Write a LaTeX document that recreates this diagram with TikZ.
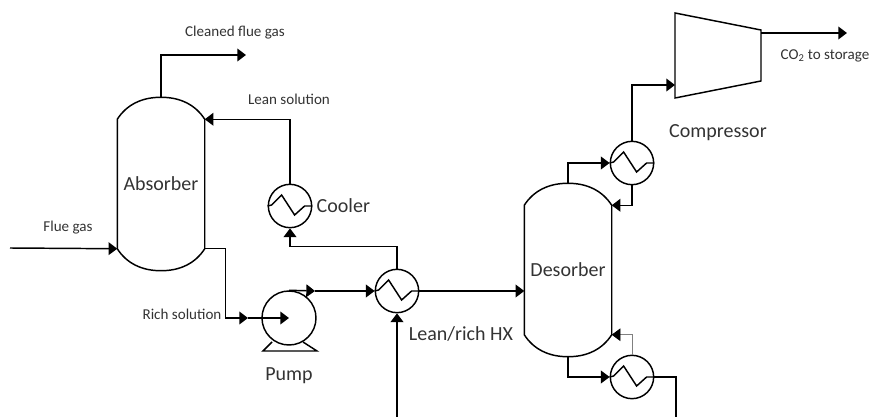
\documentclass[tikz,border=0pt]{standalone}
\usepackage{fontspec}
\setmainfont{Carlito}
\usetikzlibrary{positioning,arrows.meta}

\tikzset{
  vessel/.style={minimum width=64.5pt, minimum height=96pt, inner sep=0pt, font=\fontsize{15}{18}\selectfont, text=black!80},
  exchanger/.style={draw, circle, minimum size=32.5pt, inner sep=0pt},
  pumpbody/.style={draw, circle, minimum size=40.5pt, inner sep=0pt},
  biglabel/.style={font=\fontsize{15}{18}\selectfont, text=black!80, inner sep=0pt},
  smalllabel/.style={font=\fontsize{11.3}{13}\selectfont, text=black!80, inner sep=0pt},
  flow/.style={-{Triangle[length=6.5pt,width=9.5pt,black]}}
}

\begin{document}
\begin{tikzpicture}[x=0.75pt, y=-0.75pt, line width=1.1pt]
\useasboundingbox (0,0) rectangle (869,417);
% vessels
\node[vessel] (absorber) at (161,184) {Absorber};
\node[vessel] (desorber) at (568,270) {Desorber};
\foreach \n in {absorber,desorber} {
  \draw (\n.north west) .. controls ++(9,-14) and ++(-20,0) .. ([yshift=16.5pt]\n.north)
        .. controls ++(20,0) and ++(-9,-14) .. (\n.north east)
        -- (\n.south east) .. controls ++(-9,14) and ++(20,0) .. ([yshift=-16.5pt]\n.south)
        .. controls ++(-20,0) and ++(9,14) .. (\n.south west) -- cycle;
}
% heat exchangers
\node[exchanger] (cooler) at (290,206) {};
\node[exchanger] (hx) at (397,291) {};
\node[exchanger] (condenser) at (632,163) {};
\node[exchanger] (reboiler) at (632,377) {};
\foreach \n in {cooler,hx,condenser,reboiler} {
  \draw (\n.west) -- ++(4,-1) -- ++(10,-10) -- ++(13,20) -- ++(10,-9) -- (\n.east);
}
% pump
\node[pumpbody] (pump) at (289,318) {};
\draw (272,342) -- (263,351) -- (317,351) -- (303,342);
% compressor
\coordinate (compin) at (675,85);
\coordinate (compout) at (761,33);
\draw (675,13) -- (761,30) -- (761,81) -- (675,98) -- cycle;
% free ends
\coordinate (fluein) at (10,248);
\coordinate (cleanedout) at (246,55);
\coordinate (co2out) at (847,33);
\coordinate (hxfeed) at (397,417);
\coordinate (reboilerout) at (676,417);
\coordinate (pumpmid) at (248,318);
\coordinate (pumpexit) at (315,291);
% connectors
\draw[flow] (fluein) -- (absorber.south west);
\draw[flow] (absorber.north) ++(0,-22) |- (cleanedout);
\draw[flow] (cooler.north) |- (absorber.north east);
\draw[flow] (absorber.south east) -- ++(21,0) |- (pumpmid);
\draw[flow] (pumpmid) -- (pump.center);
\draw[flow] (pump.north) -- (pumpexit);
\draw[flow] (pumpexit) -- (hx.west);
\draw[flow] (hx.north) -- ++(0,-22) -| (cooler.south);
\draw[flow] (hxfeed) -- (hx.south);
\draw[flow] (hx.east) -- (hx.east -| desorber.west);
\draw[flow] (desorber.north) ++(0,-22) |- (condenser.west);
\draw[flow] (condenser.south) |- (desorber.north east);
\draw[flow] (condenser.north) |- (compin);
\draw[flow] (compout) -- (co2out);
\draw[flow] (desorber.south) ++(0,22) |- (reboiler.west);
\draw[flow, gray, line width=0.6pt] (reboiler.north) |- (desorber.south east);
\draw (reboiler.east) -| (reboilerout);
% labels
\node[smalllabel] (cleanedlabel) at (235,33) {Cleaned flue gas};
\node[smalllabel] (leanlabel) at (289,99) {Lean solution};
\node[smalllabel] (fluelabel) at (68,228) {Flue gas};
\node[smalllabel] (richlabel) at (182,314) {Rich solution};
\node[smalllabel] (co2label) at (825,56) {CO\textsubscript{2} to storage};
\node[biglabel, anchor=west] (coolerlabel) at (316,206) {Cooler};
\node[biglabel] (pumplabel) at (289,376) {Pump};
\node[biglabel] (hxlabel) at (461,334) {Lean/rich HX};
\node[biglabel] (complabel) at (718,133) {Compressor};
\end{tikzpicture}
\end{document}
